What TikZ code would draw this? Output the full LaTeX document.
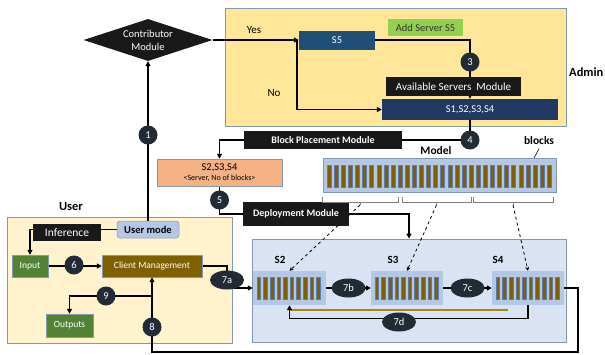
\documentclass[tikz,border=0pt]{standalone}
\usepackage{fontspec}
\setmainfont{Carlito}
\usetikzlibrary{shapes.geometric,arrows.meta,calc}
\definecolor{adminfill}{HTML}{FFE699}
\definecolor{userfill}{HTML}{FFF2CC}
\definecolor{regionfill}{HTML}{DAE3F3}
\definecolor{paleblue}{HTML}{B4C7E7}
\definecolor{steelblue}{HTML}{1F4E79}
\definecolor{navy}{HTML}{203864}
\definecolor{limegreen}{HTML}{92D050}
\definecolor{salmon}{HTML}{F4B183}
\definecolor{leafgreen}{HTML}{548235}
\definecolor{olive}{HTML}{7F6000}
\definecolor{numfill}{HTML}{222A35}
\definecolor{goldline}{HTML}{A8861A}
\definecolor{edgegray}{HTML}{8497B0}
\definecolor{blockedge}{HTML}{5B7DB8}
\pgfdeclarelayer{back}
\pgfdeclarelayer{mid}
\pgfsetlayers{back,mid,main}
\tikzset{
  fs/.style={font=\fontsize{#1}{13}\selectfont},
  fsb/.style={font=\fontsize{#1}{13}\selectfont\bfseries},
  area/.style={draw=edgegray, line width=0.8pt, inner sep=0},
  darkbox/.style={fill=black!90, text=white, inner sep=0},
  conn/.style={draw=black, line width=1.5pt},
  arr/.style={conn, -{Triangle[length=5pt,width=5pt]}},
  num/.style={circle, fill=numfill, text=white, inner sep=0, minimum size=19, fs=10.5},
  oval/.style={ellipse, fill=numfill, text=white, inner sep=0, minimum width=34, minimum height=19, fs=10.5},
  blk/.style={fill=olive, draw=blockedge, line width=0.4pt},
  brace/.style={draw=gray, line width=0.7pt},
  hint/.style={dashed, line width=0.8pt, -{Stealth[length=4pt,width=4pt]}}
}
\begin{document}
\begin{tikzpicture}[x=1pt,y=-1pt]
\useasboundingbox (0,0) rectangle (605,354);

% large background areas
\begin{pgfonlayer}{back}
\node[area, fill=adminfill, minimum width=341, minimum height=118] (admin) at (395.5,67) {};
\node[area, fill=userfill, minimum width=225, minimum height=126] (user) at (119.5,280) {};
\node[area, fill=regionfill, minimum width=314, minimum height=103] (sreg) at (409,290.5) {};
\end{pgfonlayer}

% admin side
\node[diamond, shape aspect=3, fill=black!90, text=white, inner sep=0,
      minimum width=129, minimum height=42, align=center, fs=10.5] (contrib) at (148,40) {Contributor\\Module};
\node[fill=steelblue, text=white, inner sep=0, minimum width=76, minimum height=19, fs=10.5] (s5) at (337,40) {S5};
\node[fill=limegreen, text=black!80, inner sep=0, minimum width=75, minimum height=17, fs=10.5] (add) at (425.5,27.5) {Add Server S5};
\node[darkbox, minimum width=135, minimum height=19, fs=11] (avail) at (453.5,86.5) {Available Servers\ \ Module};
\node[fill=navy, text=white, inner sep=0, minimum width=176, minimum height=21, fs=10.5] (s14) at (470,109.5) {S1,S2,S3,S4};
\node[fs=11] (yes) at (254,30) {Yes};
\node[fs=11] (no) at (274,93) {No};
\node[fsb=12.5, anchor=west, inner sep=0] (adminlbl) at (569,72) {Admin};

% placement and deployment
\node[darkbox, minimum width=158, minimum height=18, fsb=10] (bpm) at (323,140) {Block Placement Module};
\node[fill=salmon, draw=edgegray, line width=0.5pt, inner sep=0, minimum width=125, minimum height=27,
      align=center, fs=10.5] (orange) at (219.5,172.5) {S2,S3,S4\\[-3pt]{\fontsize{8}{9}\selectfont <Server, No of blocks>}};
\node[darkbox, minimum width=106, minimum height=24, fsb=10] (dep) at (296,214) {Deployment Module};

% model strip
\node[fill=paleblue, draw=edgegray, line width=0.5pt, inner sep=0, minimum width=233, minimum height=34] (model) at (439.5,175) {};
\foreach \i in {0,...,31} \path[blk] (327+\i*7.1,165) rectangle ++(4,22);
\node[fsb=11.5] (modellbl) at (436,151) {Model};
\node[fsb=11.5] (blockslbl) at (539,141) {blocks};

% brackets under the model
\path[brace] (322,197) -- (322,202) -- (398,202) -- (398,197);
\path[brace] (360,202) -- (360,205);
\path[brace] (402,197) -- (402,202) -- (471,202) -- (471,197);
\path[brace] (436.5,202) -- (436.5,205);
\path[brace] (473,197) -- (473,202) -- (553,202) -- (553,197);
\path[brace] (513,202) -- (513,205);
\coordinate (b1) at (360,205);
\coordinate (b2) at (436.5,205);
\coordinate (b3) at (513,205);

% servers holding blocks
\node[fill=paleblue, inner sep=0, minimum width=73, minimum height=34] (s2) at (289.5,288) {};
\node[fill=paleblue, inner sep=0, minimum width=72, minimum height=34] (s3) at (407,288) {};
\node[fill=paleblue, inner sep=0, minimum width=72, minimum height=34] (s4) at (528,288) {};
\foreach \x in {257,375,496}
  \foreach \i in {0,...,9} \path[blk] (\x+\i*6.6,277) rectangle ++(3.6,22);
\node[fsb=11] (s2lbl) at (280,260) {S2};
\node[fsb=11] (s3lbl) at (393,260) {S3};
\node[fsb=11] (s4lbl) at (498,260) {S4};

% user side
\node[fsb=12.5] (userlbl) at (71,206) {User};
\node[fill=paleblue, draw=edgegray, line width=0.5pt, rounded corners=3pt, inner sep=0,
      minimum width=62, minimum height=17, fsb=10.5] (umode) at (148,229.5) {User mode};
\node[darkbox, minimum width=68, minimum height=17, fs=11.5] (inf) at (67,232.5) {Inference};
\node[fill=leafgreen, draw=edgegray, line width=0.4pt, text=white, inner sep=0, minimum width=36, minimum height=22, fs=9.5] (input) at (30,266) {Input};
\node[fill=olive, draw=edgegray, line width=0.4pt, text=white, inner sep=0, minimum width=100, minimum height=22, fs=9.5] (cm) at (152,266) {Client Management};
\node[fill=leafgreen, draw=edgegray, line width=0.4pt, text=white, inner sep=0, minimum width=47, minimum height=23, fs=9.5] (out) at (69.5,325.5) {Outputs};

\coordinate (fork) at (297,40);
\coordinate (c7a) at (227,288);
\coordinate (c8) at (578,352);
\coordinate (c9) at (152,296);

% step markers
\node[num] (n1) at (148,135) {1};
\node[num] (n3) at (470,62) {3};
\node[num] (n4) at (470,140) {4};
\node[num] (n5) at (219.5,200) {5};
\node[num] (n6) at (74,265) {6};
\node[num] (n8) at (152,327) {8};
\node[num] (n9) at (106,296) {9};
\node[oval] (o7a) at (227,280) {7a};
\node[oval] (o7b) at (348.5,288) {7b};
\node[oval] (o7c) at (467.5,288) {7c};
\node[oval] (o7d) at (399,322) {7d};

% connectors
\begin{pgfonlayer}{mid}
\draw[arr] (umode.north) -- (contrib.south);
\draw[arr] (contrib.east) -- (s5.west);
\draw[arr] (fork) |- (s14.west);
\draw[arr] (s5.east) -| (s14.north);
\draw[conn] (s14.south) |- (bpm.east);
\draw[arr] (bpm.west) -| (orange.north);
\draw[conn] (orange.south) |- (dep.west);
\draw[arr] (dep.east) -| (sreg.north);
\draw[arr] (umode.west) -| (input.north);
\draw[arr] (input.east) -- (cm.west);
\draw[arr] (cm.east) -| (c7a) -- (s2.west);
\draw[arr] (s2.east) -- (s3.west);
\draw[arr] (s3.east) -- (s4.west);
\draw[draw=goldline, line width=1.4pt] (290,310) -- (508,310);
\draw[conn, line width=1.3pt, -{Triangle[length=5pt,width=5pt]}] (s4.south) -- ++(0,13) -| (s2.south);
\draw[arr] (s4.east) -| (c8) -| (cm.south);
\draw[arr] (c9) -| (out.north);
\draw[hint] (b1) -- (s2.north);
\draw[hint] (b2) -- (s3.north);
\draw[hint] (b3) -- (s4.north);
\draw[navy, line width=0.8pt, -{Stealth[length=3pt,width=3pt]}] (blockslbl.south) -- (531,164);
\end{pgfonlayer}
\end{tikzpicture}
\end{document}
